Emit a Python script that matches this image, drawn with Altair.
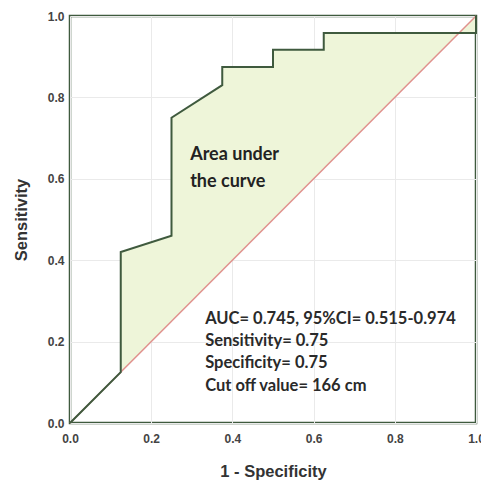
import altair as alt
import pandas as pd

# ROC curve points (1 - specificity, sensitivity)
fpr = [0.0, 0.125, 0.125, 0.25, 0.25, 0.375, 0.375, 0.5, 0.5, 0.625, 0.625, 1.0, 1.0]
tpr = [0.0, 0.125, 0.42, 0.46, 0.75, 0.83, 0.875, 0.875, 0.917, 0.917, 0.958, 0.958, 1.0]

diag_x = [0.0, 1.0]
diag_y = [0.0, 1.0]

ticks = [0.0, 0.2, 0.4, 0.6, 0.8, 1.0]

area_label = ["Area under", "the curve"]
stats_label = [
    "AUC= 0.745, 95%CI= 0.515-0.974",
    "Sensitivity= 0.75",
    "Specificity= 0.75",
    "Cut off value= 166 cm",
]

roc = pd.DataFrame({"fpr": fpr, "tpr": tpr, "chance": fpr, "i": list(range(len(fpr)))})
diag = pd.DataFrame({"fpr": diag_x, "tpr": diag_y})

FONT = "Lato"
AXFONT = "Liberation Sans"
GREEN = "#3f5a3e"

xs = alt.Scale(domain=[0, 1], nice=False)
ys = alt.Scale(domain=[0, 1], nice=False)

xax = alt.Axis(values=ticks, format=".1f", title="1 - Specificity", grid=True,
               ticks=False, domain=False, labelPadding=10, titlePadding=19,
               labelFont=AXFONT, labelFontWeight="bold", labelFontSize=12,
               labelColor="#444", titleFont=AXFONT, titleFontSize=16.5,
               titleFontWeight="bold", titleColor="#333", gridColor="#eaeaea",
               labelFlush=False)
yax = alt.Axis(values=ticks, format=".1f", title="Sensitivity", grid=True,
               ticks=False, domain=False, labelPadding=6, titlePadding=18,
               labelFont=AXFONT, labelFontWeight="bold", labelFontSize=12,
               labelColor="#444", titleFont=AXFONT, titleFontSize=16.5,
               titleFontWeight="bold", titleColor="#333", gridColor="#eaeaea",
               labelFlush=False)

area = alt.Chart(roc).mark_area(color="#eef5d9", opacity=1).encode(
    x=alt.X("fpr:Q", scale=xs, axis=xax),
    y=alt.Y("tpr:Q", scale=ys, axis=yax),
    y2=alt.Y2("chance:Q"),
)

diag_line = alt.Chart(diag).mark_line(color="#e0918d", strokeWidth=1.5).encode(
    x=alt.X("fpr:Q", scale=xs), y=alt.Y("tpr:Q", scale=ys)
)

curve = alt.Chart(roc).mark_line(color=GREEN, strokeWidth=2).encode(
    x=alt.X("fpr:Q", scale=xs), y=alt.Y("tpr:Q", scale=ys), order=alt.Order("i:Q")
)

t1 = alt.Chart(pd.DataFrame({"x": [0.296], "y": [0.658]})).mark_text(
    text=area_label, align="left", baseline="middle", font=FONT,
    fontSize=18, fontWeight="bold", color="#222", lineHeight=27
).encode(x=alt.X("x:Q", scale=xs), y=alt.Y("y:Q", scale=ys))

t2 = alt.Chart(pd.DataFrame({"x": [0.333], "y": [0.256]})).mark_text(
    text=stats_label, align="left", baseline="middle", font=FONT,
    fontSize=16.5, fontWeight="bold", color="#2a2a2a", lineHeight=22.3
).encode(x=alt.X("x:Q", scale=xs), y=alt.Y("y:Q", scale=ys))

chart = (area + diag_line + curve + t1 + t2).properties(
    width=406, height=407,
    autosize=alt.AutoSizeParams(type="none"),
    padding={"left": 70, "top": 16, "right": 5, "bottom": 60},
).configure_view(stroke=GREEN, strokeWidth=2.5)

chart.save("out.html", embed_options={"renderer": "svg", "actions": False})
